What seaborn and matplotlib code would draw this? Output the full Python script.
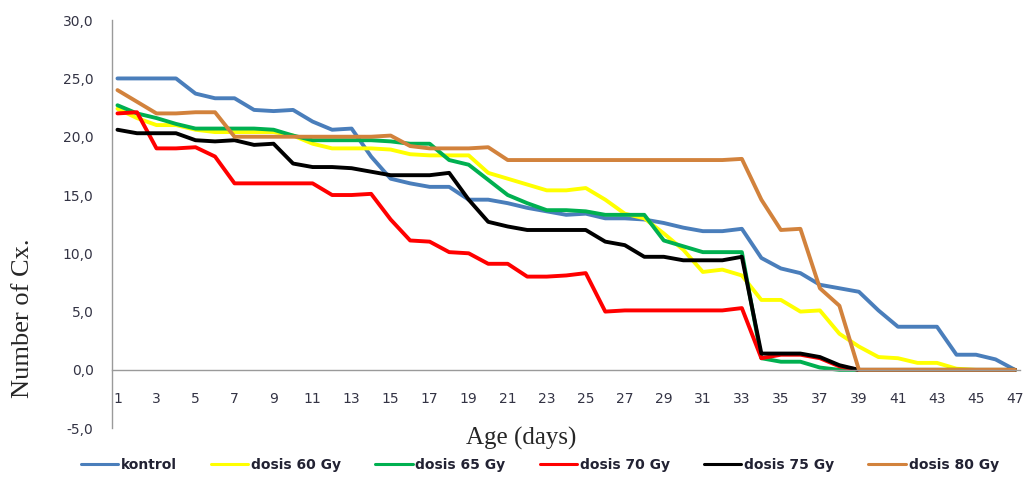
import numpy as np
import pandas as pd
import seaborn as sns
import matplotlib
matplotlib.use("Agg")
import matplotlib.pyplot as plt
from matplotlib.ticker import FuncFormatter
from matplotlib.lines import Line2D

days = list(range(1, 48))

kontrol = [25.0, 25.0, 25.0, 25.0, 23.7, 23.3, 23.3, 22.3, 22.2, 22.3,
           21.3, 20.6, 20.7, 18.3, 16.4, 16.0, 15.7, 15.7, 14.6, 14.6,
           14.3, 13.9, 13.6, 13.3, 13.4, 13.0, 13.0, 12.9, 12.6, 12.2,
           11.9, 11.9, 12.1, 9.6, 8.7, 8.3, 7.3, 7.0, 6.7, 5.1,
           3.7, 3.7, 3.7, 1.3, 1.3, 0.9, 0.0]
dosis_60 = [22.4, 21.6, 21.0, 21.0, 20.6, 20.4, 20.4, 20.4, 20.4, 20.1,
            19.4, 19.0, 19.0, 19.0, 18.9, 18.5, 18.4, 18.4, 18.4, 16.9,
            16.4, 15.9, 15.4, 15.4, 15.6, 14.6, 13.4, 13.0, 11.7, 10.3,
            8.4, 8.6, 8.1, 6.0, 6.0, 5.0, 5.1, 3.1, 2.0, 1.1,
            1.0, 0.6, 0.6, 0.1, 0.0, 0.0, 0.0]
dosis_65 = [22.7, 22.0, 21.6, 21.1, 20.7, 20.7, 20.7, 20.7, 20.6, 20.1,
            19.7, 19.7, 19.7, 19.7, 19.6, 19.4, 19.4, 18.0, 17.6, 16.3,
            15.0, 14.3, 13.7, 13.7, 13.6, 13.3, 13.3, 13.3, 11.1, 10.6,
            10.1, 10.1, 10.1, 1.0, 0.7, 0.7, 0.2, 0.0, 0.0, 0.0,
            0.0, 0.0, 0.0, 0.0, 0.0, 0.0, 0.0]
dosis_70 = [22.0, 22.1, 19.0, 19.0, 19.1, 18.3, 16.0, 16.0, 16.0, 16.0,
            16.0, 15.0, 15.0, 15.1, 12.9, 11.1, 11.0, 10.1, 10.0, 9.1,
            9.1, 8.0, 8.0, 8.1, 8.3, 5.0, 5.1, 5.1, 5.1, 5.1,
            5.1, 5.1, 5.3, 1.0, 1.3, 1.3, 1.0, 0.3, 0.0, 0.0,
            0.0, 0.0, 0.0, 0.0, 0.0, 0.0, 0.0]
dosis_75 = [20.6, 20.3, 20.3, 20.3, 19.7, 19.6, 19.7, 19.3, 19.4, 17.7,
            17.4, 17.4, 17.3, 17.0, 16.7, 16.7, 16.7, 16.9, 14.6, 12.7,
            12.3, 12.0, 12.0, 12.0, 12.0, 11.0, 10.7, 9.7, 9.7, 9.4,
            9.4, 9.4, 9.7, 1.4, 1.4, 1.4, 1.1, 0.4, 0.0, 0.0,
            0.0, 0.0, 0.0, 0.0, 0.0, 0.0, 0.0]
dosis_80 = [24.0, 23.0, 22.0, 22.0, 22.1, 22.1, 20.0, 20.0, 20.0, 20.0,
            20.0, 20.0, 20.0, 20.0, 20.1, 19.2, 19.0, 19.0, 19.0, 19.1,
            18.0, 18.0, 18.0, 18.0, 18.0, 18.0, 18.0, 18.0, 18.0, 18.0,
            18.0, 18.0, 18.1, 14.6, 12.0, 12.1, 7.0, 5.5, 0.0, 0.0,
            0.0, 0.0, 0.0, 0.0, 0.0, 0.0, 0.0]

labels = ["kontrol", "dosis 60 Gy", "dosis 65 Gy", "dosis 70 Gy", "dosis 75 Gy", "dosis 80 Gy"]
colors = ["#4a7ebb", "#ffff00", "#00b050", "#ff0000", "#000000", "#d2823c"]

series = [kontrol, dosis_60, dosis_65, dosis_70, dosis_75, dosis_80]
df = pd.concat([pd.DataFrame({"day": days, "value": s, "group": lab})
                for lab, s in zip(labels, series)], ignore_index=True)

sns.set_style("white")
plt.rcParams['font.family'] = ['DejaVu Sans']

fig = plt.figure(figsize=(10.24, 4.8), dpi=100)
ax = fig.add_axes([0.109, 0.108, 0.887, 0.850])

sns.lineplot(data=df, x="day", y="value", hue="group", hue_order=labels,
             palette=colors, linewidth=2.8, sort=False, legend=False, ax=ax)
for ln in ax.get_lines():
    ln.set_solid_joinstyle("round")
    ln.set_solid_capstyle("round")

ax.set_xlim(0.7, 47.25)
ax.set_ylim(-5, 30)
ax.set_xticks(range(1, 48, 2))
ax.set_yticks(np.arange(-5, 31, 5))
ax.yaxis.set_major_formatter(FuncFormatter(lambda v, p: f"{v:.1f}".replace(".", ",")))

ax.spines['top'].set_visible(False)
ax.spines['right'].set_visible(False)
ax.spines['bottom'].set_position(('data', 0))
for sp in ['left', 'bottom']:
    ax.spines[sp].set_color('#9a9a9a')
    ax.spines[sp].set_linewidth(1.0)

ax.tick_params(axis='x', length=0, pad=16, labelsize=10, labelcolor='#333344')
ax.tick_params(axis='y', length=0, pad=13, labelsize=10, labelcolor='#333344')
ax.set_xlabel("")
ax.set_ylabel("")
ax.grid(False)

fig.text(0.022, 0.3375, "Number of Cx.", rotation=90, ha='center', va='center',
         family='Liberation Serif', fontsize=19)
fig.text(0.509, 0.0875, "Age (days)", ha='center', va='center',
         family='Liberation Serif', fontsize=18)

handles = [Line2D([0], [0], color=c, linewidth=2.2) for c in colors]
leg = fig.legend(handles, labels, loc='center', bbox_to_anchor=(0.527, 0.031),
                 ncol=6, frameon=False, handlelength=2.7, handletextpad=0.2,
                 columnspacing=2.45, prop={'weight': 'bold', 'size': 10})
for t in leg.get_texts():
    t.set_color('#222233')

fig.savefig("out.png", dpi=100)
